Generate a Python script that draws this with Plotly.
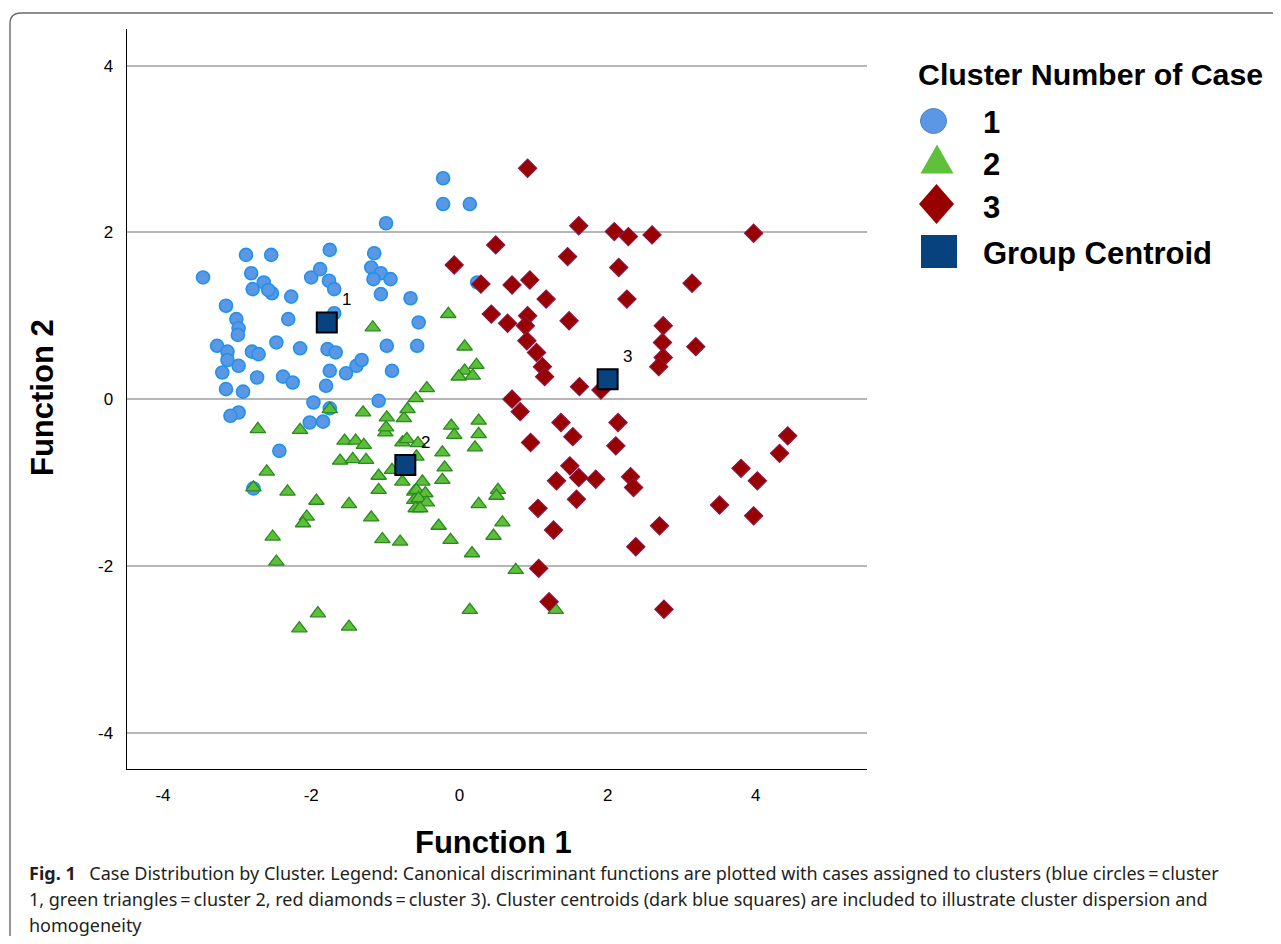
import plotly.graph_objects as go

# ---------------- data ----------------
c1_x = [-3.46, -2.88, -2.54, -1.75, -2.81, -2.00, -1.88, -2.64, -2.79, -1.76, -1.69, -2.53, -2.58, -2.27,
        -3.15, -3.01, -2.98, -2.99, -2.31, -1.69, -3.27, -3.13, -3.13, -2.98, -3.20, -2.80, -2.71, -2.47,
        -2.15, -1.78, -1.67, -1.75, -1.53, -1.39, -2.73, -2.38, -2.25, -3.15, -2.92, -1.80, -1.97, -2.98,
        -3.09, -2.02, -1.84, -2.43, -0.22, -0.22, 0.14, -0.99, -1.15, -1.19, -1.06, -1.16, -0.93, -1.06,
        -0.66, -0.55, -0.98, -0.57, -1.32, -0.91, -1.09, -1.75, -2.78, 0.24]
c1_y = [1.46, 1.73, 1.73, 1.79, 1.51, 1.46, 1.56, 1.40, 1.32, 1.42, 1.32, 1.27, 1.31, 1.23,
        1.12, 0.96, 0.85, 0.77, 0.96, 1.03, 0.64, 0.57, 0.47, 0.40, 0.32, 0.57, 0.54, 0.68,
        0.61, 0.60, 0.56, 0.34, 0.31, 0.40, 0.26, 0.27, 0.20, 0.12, 0.09, 0.16, -0.04, -0.16,
        -0.20, -0.28, -0.27, -0.62, 2.65, 2.34, 2.34, 2.11, 1.75, 1.58, 1.51, 1.44, 1.44, 1.26,
        1.21, 0.92, 0.64, 0.64, 0.47, 0.34, -0.02, -0.11, -1.07, 1.40]

c2_x = [-2.72, -2.15, -1.75, -1.30, -0.98, -0.75, -0.70, -0.59, -1.00, -0.99, -1.55, -1.40, -1.29, -1.61,
        -1.44, -1.26, -0.77, -0.71, -2.60, -2.78, -2.32, -1.93, -1.49, -1.09, -1.09, -2.06, -2.11, -1.19,
        -2.52, -1.04, -0.80, -2.47, -1.91, -2.16, -1.49, -0.91, -0.77, -0.61, -0.61, -0.59, -1.17, -0.15,
        0.07, 0.23, 0.07, -0.01, 0.18, -0.44, -0.11, 0.26, -0.07, 0.26, 0.21, -0.23, -0.20, -0.23,
        -0.58, -0.50, -0.58, -0.46, -0.55, -0.44, -0.53, 0.52, 0.50, 0.26, -0.28, 0.58, 0.46, -0.12,
        0.17, 0.76, 0.14, 1.30, -0.56]
c2_y = [-0.36, -0.37, -0.12, -0.16, -0.22, -0.23, -0.12, 0.01, -0.40, -0.34, -0.50, -0.50, -0.55, -0.74,
        -0.72, -0.73, -0.52, -0.48, -0.87, -1.06, -1.11, -1.22, -1.26, -0.92, -1.09, -1.41, -1.49, -1.42,
        -1.65, -1.68, -1.71, -1.95, -2.57, -2.75, -2.73, -0.85, -0.99, -1.11, -1.21, -1.31, 0.86, 1.02,
        0.63, 0.41, 0.34, 0.27, 0.28, 0.13, -0.32, -0.26, -0.43, -0.42, -0.58, -0.64, -0.82, -0.97,
        -0.69, -0.99, -1.09, -1.13, -1.19, -1.24, -1.31, -1.09, -1.16, -1.26, -1.52, -1.48, -1.64, -1.69,
        -1.85, -2.05, -2.53, -2.53, -0.53]

c3_x = [0.92, 1.61, 2.09, 2.28, 2.60, 3.97, 0.49, -0.07, 1.46, 2.15, 0.29, 0.71, 0.95, 1.17, 2.26,
        3.14, 0.43, 0.65, 0.92, 0.89, 1.48, 0.91, 1.04, 1.12, 1.15, 1.62, 1.91, 2.75, 2.74, 2.75,
        2.69, 3.19, 0.71, 0.82, 1.37, 2.14, 0.96, 1.53, 2.11, 1.49, 1.61, 1.84, 1.31, 2.31, 2.35,
        1.58, 1.06, 1.27, 2.70, 2.38, 1.07, 1.21, 2.76, 4.43, 4.32, 3.80, 4.02, 3.51, 3.97]
c3_y = [2.77, 2.08, 2.01, 1.95, 1.97, 1.99, 1.85, 1.61, 1.71, 1.58, 1.38, 1.37, 1.43, 1.20, 1.20,
        1.39, 1.02, 0.91, 1.00, 0.88, 0.94, 0.70, 0.56, 0.39, 0.27, 0.15, 0.11, 0.88, 0.68, 0.50,
        0.39, 0.63, 0.00, -0.15, -0.28, -0.28, -0.52, -0.45, -0.56, -0.80, -0.94, -0.96, -0.98, -0.93, -1.06,
        -1.20, -1.31, -1.57, -1.52, -1.77, -2.03, -2.43, -2.52, -0.44, -0.65, -0.83, -0.98, -1.27, -1.40]

centroid_x = [-1.79, -0.73, 2.00]
centroid_y = [0.92, -0.79, 0.24]
centroid_labels = ["1", "2", "3"]

x_ticks = [-4, -2, 0, 2, 4]
x_tick_labels = ["-4", "-2", "0", "2", "4"]
y_ticks = [-4, -2, 0, 2, 4]
y_tick_labels = ["-4", "-2", "0", "2", "4"]

legend_title = "Cluster Number of Case"
legend_labels = ["1", "2", "3", "Group Centroid"]

caption_lines = [
    "<b>Fig. 1</b>\u2002 Case Distribution by Cluster. Legend: Canonical discriminant functions are plotted with cases assigned to clusters (blue circles\u2009=\u2009cluster",
    "1, green triangles\u2009=\u2009cluster 2, red diamonds\u2009=\u2009cluster 3). Cluster centroids (dark blue squares) are included to illustrate cluster dispersion and",
    "homogeneity",
]

# ---------------- styling ----------------
BLUE, BLUE_EDGE = "#5b97e5", "#1f93ec"
GREEN, GREEN_EDGE = "#5cbe3a", "#2b8a1e"
RED, RED_EDGE = "#990000", "#8c1446"
NAVY = "#08427f"
SANS = "Liberation Sans, Arial, sans-serif"

W, H = 1265, 928
OFF = 8  # page body margin


def fx(v):
    """page pixel x -> paper fraction"""
    return (v - OFF) / W


def fy(v):
    """page pixel y -> paper fraction"""
    return 1 - (v - OFF) / H


fig = go.Figure()

fig.add_trace(go.Scatter(x=c1_x, y=c1_y, mode="markers", name="1", showlegend=False,
                         marker=dict(symbol="circle", size=13, color=BLUE,
                                     line=dict(color=BLUE_EDGE, width=1.6))))
fig.add_trace(go.Scatter(x=c2_x, y=c2_y, mode="markers", name="2", showlegend=False,
                         marker=dict(symbol="triangle-up", size=13.5, color=GREEN,
                                     line=dict(color=GREEN_EDGE, width=1.3))))
fig.add_trace(go.Scatter(x=c3_x, y=c3_y, mode="markers", name="3", showlegend=False,
                         marker=dict(symbol="diamond", size=14, color=RED,
                                     line=dict(color=RED_EDGE, width=1.2))))
fig.add_trace(go.Scatter(x=centroid_x, y=centroid_y, mode="markers", name="Group Centroid",
                         showlegend=False,
                         marker=dict(symbol="square", size=20, color=NAVY,
                                     line=dict(color="black", width=2))))

annotations = []
for cx, cy, lab in zip(centroid_x, centroid_y, centroid_labels):
    annotations.append(dict(x=cx, y=cy, xref="x", yref="y", text=lab, showarrow=False,
                            xshift=20, yshift=23, font=dict(family=SANS, size=17, color="black")))


def page_text(x, y, text, size, family=SANS, xanchor="left", color="black", **kw):
    return dict(x=fx(x), y=fy(y), xref="paper", yref="paper", text=text, showarrow=False,
                xanchor=xanchor, yanchor="middle", font=dict(family=family, size=size, color=color), **kw)


# axis titles
annotations.append(page_text(493.5, 842, "<b>Function 1</b>", 31, xanchor="center"))
annotations.append(page_text(42, 398, "<b>Function 2</b>", 31, xanchor="center", textangle=-90))

# legend (custom, larger swatches than plotly's legend permits)
LEG_MX, LEG_TX = 937, 981
annotations.append(page_text(916, 75, "<b>" + legend_title + "</b>", 30.3))
legend_cy = [121, 163, 206, 252]
for lab, cy in zip(legend_labels, legend_cy):
    annotations.append(page_text(LEG_TX, cy + 1.5, "<b>" + lab + "</b>", 31))

# caption
for i, line in enumerate(caption_lines):
    annotations.append(page_text(27, 873 + 26 * i, line, 18, family="Noto Sans, sans-serif",
                                 color="#231f20"))


def path(points):
    return "M " + " L ".join(f"{fx(a):.5f},{fy(b):.5f}" for a, b in points) + " Z"


shapes = []
# rounded frame around the figure
shapes.append(dict(type="path", xref="paper", yref="paper",
                   path=(f"M {fx(1300):.5f},{fy(13):.5f} L {fx(21):.5f},{fy(13):.5f} "
                         f"Q {fx(10):.5f},{fy(13):.5f} {fx(10):.5f},{fy(24):.5f} L {fx(10):.5f},{fy(960):.5f}"),
                   line=dict(color="#6a6a6a", width=1.4)))
# legend swatches
cy = legend_cy[0]
shapes.append(dict(type="circle", xref="paper", yref="paper", x0=fx(LEG_MX - 16.5), x1=fx(LEG_MX + 9.5),
                   y0=fy(cy - 12.5), y1=fy(cy + 12.5), fillcolor=BLUE, line=dict(color="#4f7fb8", width=1)))
cy = legend_cy[1] - 4
shapes.append(dict(type="path", xref="paper", yref="paper",
                   path=path([(LEG_MX - 16.5, cy + 14.5), (LEG_MX + 16.5, cy + 14.5), (LEG_MX, cy - 14.5)]),
                   fillcolor="#5fc13b", line=dict(width=0)))
cy = legend_cy[2] - 2
shapes.append(dict(type="path", xref="paper", yref="paper",
                   path=path([(LEG_MX - 0.5, cy - 20), (LEG_MX + 17, cy), (LEG_MX - 0.5, cy + 20),
                              (LEG_MX - 18, cy)]),
                   fillcolor=RED, line=dict(width=0)))
cy = legend_cy[3] - 0.5
shapes.append(dict(type="rect", xref="paper", yref="paper", x0=fx(LEG_MX - 16), x1=fx(LEG_MX + 20),
                   y0=fy(cy - 16.5), y1=fy(cy + 16.5), fillcolor="#07417e", line=dict(width=0)))

axis_font = dict(family=SANS, size=17, color="black")
fig.update_layout(
    width=W, height=H,
    margin=dict(l=0, r=0, t=0, b=0),
    paper_bgcolor="white", plot_bgcolor="white",
    showlegend=False,
    xaxis=dict(domain=[fx(126.7), fx(867)], range=[-4.49, 5.5], tickvals=x_ticks,
               ticktext=x_tick_labels, showgrid=False, zeroline=False, showline=True,
               linecolor="black", linewidth=1.3, ticks="outside", ticklen=10,
               tickcolor="rgba(0,0,0,0)", tickfont=axis_font),
    yaxis=dict(domain=[fy(769.3), fy(29)], range=[-4.44, 4.44], tickvals=y_ticks,
               ticktext=y_tick_labels, showgrid=True, gridcolor="#b6b6b6", gridwidth=2,
               zeroline=False, showline=True, linecolor="black", linewidth=1.3,
               ticks="outside", ticklen=9, tickcolor="rgba(0,0,0,0)", tickfont=axis_font),
    annotations=annotations,
    shapes=shapes,
)

fig.write_html("out.html")
